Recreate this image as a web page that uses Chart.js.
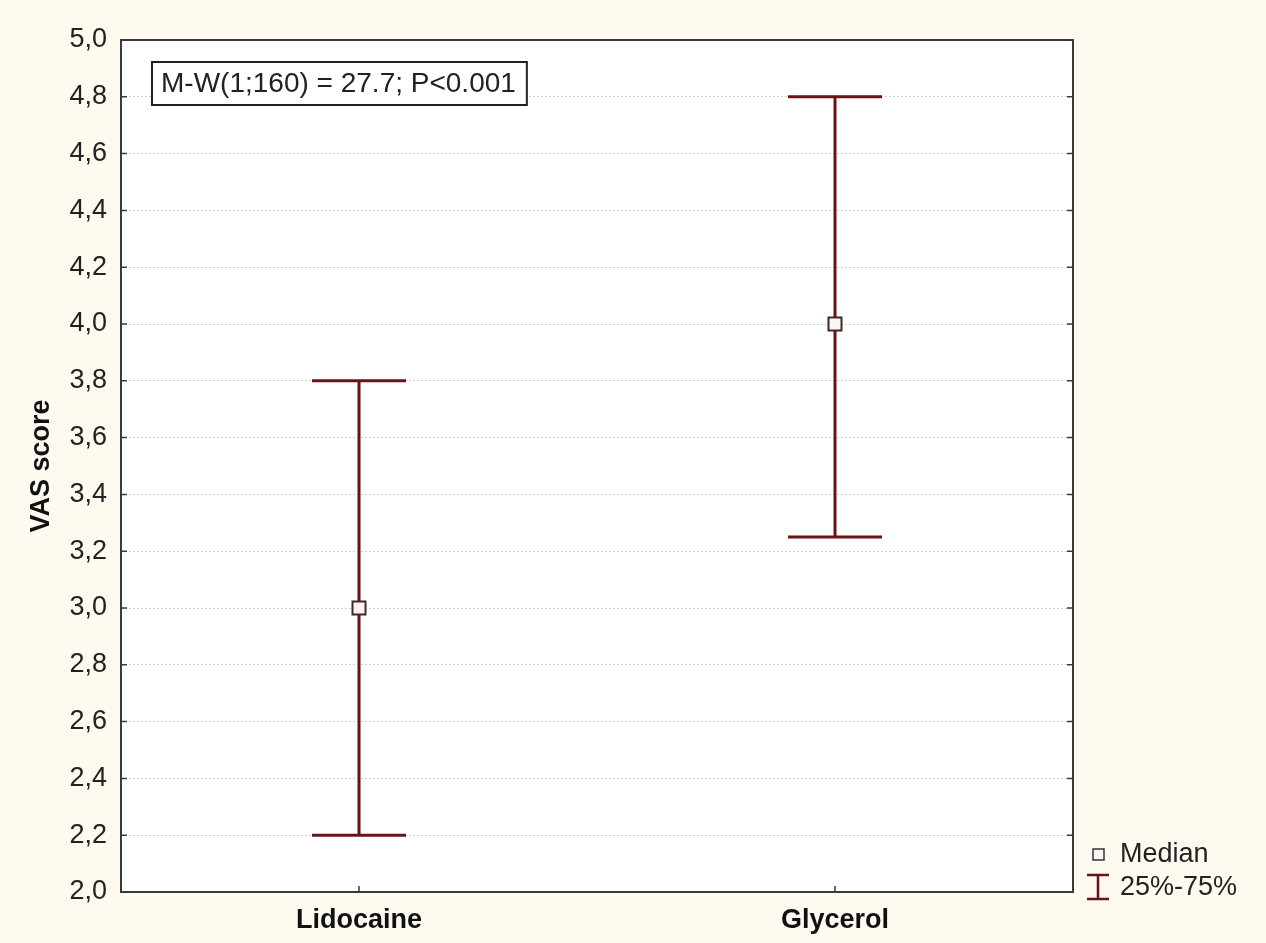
<!DOCTYPE html>
<html>
<head>
<meta charset="utf-8">
<script src="https://cdn.jsdelivr.net/npm/chart.js@4"></script>
<style>
  html, body { margin: 0; padding: 0; background: #fefaf0; }
  #wrap { width: 1266px; height: 943px; }
</style>
</head>
<body>
<div id="wrap"><canvas id="chart" width="1266" height="943"></canvas></div>
<script>
// ---- data ----
const groups = ['Lidocaine', 'Glycerol'];
const medians = [3.0, 4.0];
const q25 = [2.2, 3.25];
const q75 = [3.8, 4.8];
const yTicks = [2.0, 2.2, 2.4, 2.6, 2.8, 3.0, 3.2, 3.4, 3.6, 3.8, 4.0, 4.2, 4.4, 4.6, 4.8, 5.0];
const statText = 'M-W(1;160) = 27.7; P<0.001';

const BAR = '#6b1218';
const FRAME = '#3a3a3a';
const FONT = '"Liberation Sans", Arial, sans-serif';

// error bars, frame, inward ticks, stat box, legend
const whiskers = {
    id: 'whiskers',
    beforeDraw(chart) {
        const { ctx, chartArea: a } = chart;
        ctx.save();
        ctx.fillStyle = '#ffffff';
        ctx.fillRect(a.left, a.top, a.right - a.left, a.bottom - a.top);
        ctx.restore();
    },
    afterDatasetsDraw(chart) {
        const { ctx, scales: { x, y } } = chart;
        ctx.save();
        groups.forEach((g, i) => {
            const px = x.getPixelForValue(i);
            const top = y.getPixelForValue(q75[i]);
            const bot = y.getPixelForValue(q25[i]);
            ctx.strokeStyle = BAR;
            ctx.lineWidth = 3;
            ctx.beginPath();
            ctx.moveTo(px, top); ctx.lineTo(px, bot);
            ctx.moveTo(px - 47, top); ctx.lineTo(px + 47, top);
            ctx.moveTo(px - 47, bot); ctx.lineTo(px + 47, bot);
            ctx.stroke();
            // median marker on top of the line
            const my = y.getPixelForValue(medians[i]);
            ctx.fillStyle = '#fff4f4';
            ctx.fillRect(px - 6.5, my - 6.5, 13, 13);
            ctx.lineWidth = 2;
            ctx.strokeStyle = '#3a2a2a';
            ctx.strokeRect(px - 6.5, my - 6.5, 13, 13);
        });
        ctx.restore();
    },
    afterDraw(chart) {
        const { ctx, chartArea: a, scales: { x, y } } = chart;
        ctx.save();
        // frame
        ctx.strokeStyle = FRAME;
        ctx.lineWidth = 2;
        ctx.strokeRect(a.left, a.top, a.right - a.left, a.bottom - a.top);
        // inward ticks
        ctx.lineWidth = 1.5;
        ctx.beginPath();
        yTicks.forEach(v => {
            const py = y.getPixelForValue(v);
            ctx.moveTo(a.left, py); ctx.lineTo(a.left + 6, py);
            ctx.moveTo(a.right, py); ctx.lineTo(a.right - 6, py);
        });
        groups.forEach((g, i) => {
            const px = x.getPixelForValue(i);
            ctx.moveTo(px, a.bottom); ctx.lineTo(px, a.bottom - 6);
        });
        ctx.stroke();

        // stats box
        ctx.font = '28px ' + FONT;
        ctx.textBaseline = 'middle';
        const tw = ctx.measureText(statText).width;
        ctx.fillStyle = '#ffffff';
        ctx.fillRect(a.left + 31, a.top + 22, tw + 20, 43);
        ctx.strokeStyle = '#222';
        ctx.lineWidth = 2;
        ctx.strokeRect(a.left + 31, a.top + 22, tw + 20, 43);
        ctx.fillStyle = '#222';
        ctx.fillText(statText, a.left + 40, a.top + 44);

        // legend
        const lx = a.right + 25;
        ctx.fillStyle = '#fff4f4';
        ctx.fillRect(lx - 5, 849, 11, 11);
        ctx.strokeStyle = '#333';
        ctx.lineWidth = 1.5;
        ctx.strokeRect(lx - 5, 849, 11, 11);
        ctx.strokeStyle = BAR;
        ctx.lineWidth = 2.5;
        ctx.beginPath();
        ctx.moveTo(lx, 875); ctx.lineTo(lx, 899);
        ctx.moveTo(lx - 11, 875); ctx.lineTo(lx + 11, 875);
        ctx.moveTo(lx - 11, 899); ctx.lineTo(lx + 11, 899);
        ctx.stroke();
        ctx.font = '27px ' + FONT;
        ctx.fillStyle = '#222';
        ctx.fillText('Median', lx + 22, 855);
        ctx.fillText('25%-75%', lx + 22, 888);
        ctx.restore();
    }
};

new Chart(document.getElementById('chart'), {
    type: 'line',
    data: {
        labels: groups,
        datasets: [{
            data: medians,
            showLine: false,
            pointRadius: 0
        }]
    },
    options: {
        responsive: false,
        animation: false,
        devicePixelRatio: 1,
        layout: { padding: { top: 40, right: 193, left: 0, bottom: 0 } },
        plugins: { legend: { display: false }, tooltip: { enabled: false } },
        scales: {
            x: {
                type: 'category',
                offset: true,
                grid: { display: false, drawTicks: false },
                border: { display: false },
                ticks: {
                    padding: 12,
                    color: '#111',
                    font: { family: FONT, size: 27, weight: 'bold' }
                },
                afterFit: s => { s.height = 51; }
            },
            y: {
                min: 2,
                max: 5,
                grid: { color: '#cdcdcd', lineWidth: 1, drawTicks: false },
                border: { display: false, dash: [2, 2] },
                afterBuildTicks: s => { s.ticks = yTicks.map(v => ({ value: v })); },
                ticks: {
                    padding: 14,
                    color: '#222',
                    font: { family: FONT, size: 27 },
                    callback: v => v.toFixed(1).replace('.', ',')
                },
                title: {
                    display: true,
                    text: 'VAS score',
                    color: '#111',
                    font: { family: FONT, size: 27, weight: 'bold' },
                    padding: { top: 25, bottom: 0 }
                },
                afterFit: s => { s.width = 121; }
            }
        }
    },
    plugins: [whiskers]
});
</script>
</body>
</html>
